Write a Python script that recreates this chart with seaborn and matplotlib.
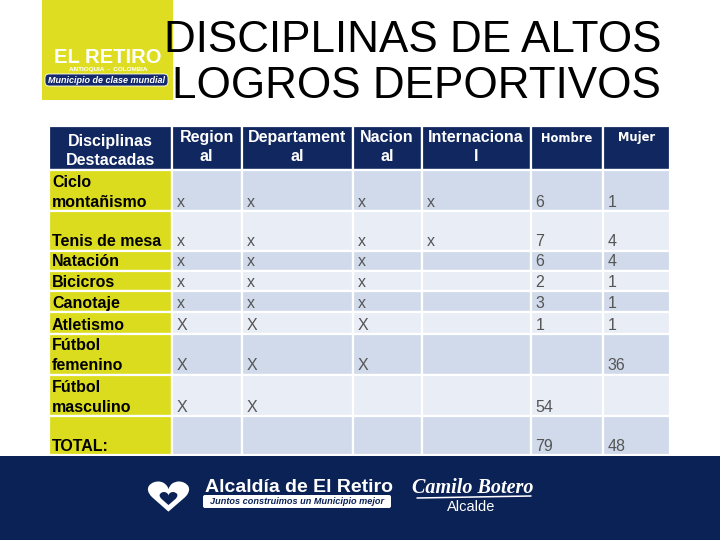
import matplotlib.pyplot as plt
import seaborn as sns
from matplotlib import font_manager
from matplotlib.font_manager import FontProperties
from matplotlib.patches import FancyBboxPatch
from matplotlib.textpath import TextPath
from matplotlib.transforms import Affine2D

# Table content
headers = ["Disciplinas\nDestacadas", "Region\nal", "Departament\nal",
           "Nacion\nal", "Internaciona\nl", "Hombre", "Mujer"]
disciplinas = ["Ciclo\nmontañismo", "Tenis de mesa", "Natación", "Bicicros",
               "Canotaje", "Atletismo", "Fútbol\nfemenino", "Fútbol\nmasculino",
               "TOTAL:"]
regional = ["x", "x", "x", "x", "x", "X", "X", "X", ""]
departamental = ["x", "x", "x", "x", "x", "X", "X", "X", ""]
nacional = ["x", "x", "x", "x", "x", "X", "X", "", ""]
internacional = ["x", "x", "", "", "", "", "", "", ""]
hombre = ["6", "7", "6", "2", "3", "1", "", "54", "79"]
mujer = ["1", "4", "4", "1", "1", "1", "36", "", "48"]

title_lines = ["DISCIPLINAS DE ALTOS", "LOGROS DEPORTIVOS"]

sns.set_theme(style="white")
plt.rcParams["font.family"] = ["Liberation Sans", "DejaVu Sans"]

names = {f.name for f in font_manager.fontManager.ttflist}
narrow = "Liberation Sans Narrow" if "Liberation Sans Narrow" in names else None

NAVY = "#10275f"
FOOT = "#0b2257"
YELLOW = "#dcdc1e"
ROW_DARK = "#d0daeb"
ROW_LIGHT = "#e8edf6"
CELL_TXT = "#555555"

# layout (pixels)
col_edges = [49, 171.5, 242, 352.5, 421.5, 530.5, 602.5, 670]
row_edges = [126, 169.5, 211, 250.5, 270.5, 291, 312, 333.5, 374.5, 415.5, 455]

fig = plt.figure(figsize=(7.2, 5.4), dpi=100)
ax = fig.add_axes([0, 0, 1, 1])
ax.set_xlim(0, 720)
ax.set_ylim(540, 0)
ax.axis("off")

lefts = col_edges[:-1]
widths = [b - a for a, b in zip(col_edges[:-1], col_edges[1:])]

# header row
ax.bar(lefts, row_edges[1] - row_edges[0], width=widths, bottom=row_edges[0],
       align="edge", color=NAVY, edgecolor="white", linewidth=1.6)

# body rows
for i in range(len(disciplinas)):
    shade = ROW_DARK if i % 2 == 0 else ROW_LIGHT
    ax.bar(lefts, row_edges[i + 2] - row_edges[i + 1], width=widths,
           bottom=row_edges[i + 1], align="edge",
           color=[YELLOW] + [shade] * 6, edgecolor="white", linewidth=1.6)

# header text
for j, h in enumerate(headers):
    cx = (col_edges[j] + col_edges[j + 1]) / 2
    parts = h.split("\n")
    if j == 0:
        ax.text(cx, 146, parts[0], ha="center", va="baseline", color="white",
                fontsize=11.5, fontweight="bold")
        ax.text(cx, 165, parts[1], ha="center", va="baseline", color="white",
                fontsize=11.5, fontweight="bold")
    elif j <= 4:
        ax.text(cx, 142, parts[0], ha="center", va="baseline", color="white",
                fontsize=11.5, fontweight="bold")
        ax.text(cx, 161, parts[1], ha="center", va="baseline", color="white",
                fontsize=11.5, fontweight="bold")
    else:
        ax.text(cx, 141.5, parts[0], ha="center", va="baseline", color="white",
                fontsize=8.3, fontweight="bold", family=["DejaVu Sans"])

# body text
columns = [regional, departamental, nacional, internacional, hombre, mujer]
for i, name in enumerate(disciplinas):
    base = row_edges[i + 2] - 4
    for k, line in enumerate(reversed(name.split("\n"))):
        ax.text(col_edges[0] + 3, base - 20 * k, line, ha="left", va="baseline",
                color="black", fontsize=11.5, fontweight="bold")
    for j, col in enumerate(columns):
        if col[i]:
            ax.text(col_edges[j + 1] + 5, base, col[i], ha="left", va="baseline",
                    color=CELL_TXT, fontsize=11.5)

# title
ax.text(661, 52, title_lines[0], ha="right", va="baseline", fontsize=31.7, color="black")
ax.text(661, 98, title_lines[1], ha="right", va="baseline", fontsize=31.7, color="black")

# logo (top left)
ax.bar(42, 100, width=131, bottom=0, align="edge", color="#dedd22",
       linewidth=0, zorder=0)
ax.text(108, 63, "EL RETIRO", ha="center", va="baseline", color="white",
        fontsize=16 if narrow else 14.5, fontweight="bold",
        family=[narrow] if narrow else ["Liberation Sans"])
ax.text(108, 71, "ANTIOQUIA  -  COLOMBIA", ha="center", va="baseline",
        color="white", fontsize=4.6, fontweight="bold")
ax.add_patch(FancyBboxPatch((45, 74), 123, 12,
                            boxstyle="round,pad=0,rounding_size=4",
                            fc="#14296b", ec="white", lw=0.6))
ax.text(106.5, 80.5, "Municipio de clase mundial", ha="center", va="center",
        color="white", fontsize=6.5, fontweight="bold", style="italic")

# footer band
ax.bar(0, 84, width=720, bottom=456, align="edge", color=FOOT, linewidth=0)

heart = TextPath((0, 0), "\u2665", prop=FontProperties(family="DejaVu Sans"))
ext = heart.get_extents()
heart = heart.transformed(
    Affine2D().translate(-(ext.x0 + ext.x1) / 2, -(ext.y0 + ext.y1) / 2).scale(1.0, 0.72))
ax.scatter([167.5], [495.5], marker=heart, s=37 ** 2, c="white", linewidths=0)
ax.scatter([168], [498], marker=heart, s=16 ** 2, c=FOOT, linewidths=0)

ax.text(205, 492, "Alcaldía de El Retiro", ha="left", va="baseline",
        color="white", fontsize=14, fontweight="bold")
ax.add_patch(FancyBboxPatch((203, 495), 188, 13,
                            boxstyle="round,pad=0,rounding_size=2",
                            fc="white", ec="none"))
ax.text(297, 501.5, "Juntos construimos un Municipio mejor", ha="center",
        va="center", color=FOOT, fontsize=6.6, style="italic", fontweight="bold")
ax.text(473, 488, "Camilo Botero", ha="center", va="center", color="white",
        fontsize=14.5, style="italic", fontweight="bold", family=["Liberation Serif"])
ax.plot([417, 531], [498, 496], color="white", lw=1.1)
ax.text(471, 507, "Alcalde", ha="center", va="center", color="white", fontsize=10.5)

fig.savefig("out.png", dpi=100)
